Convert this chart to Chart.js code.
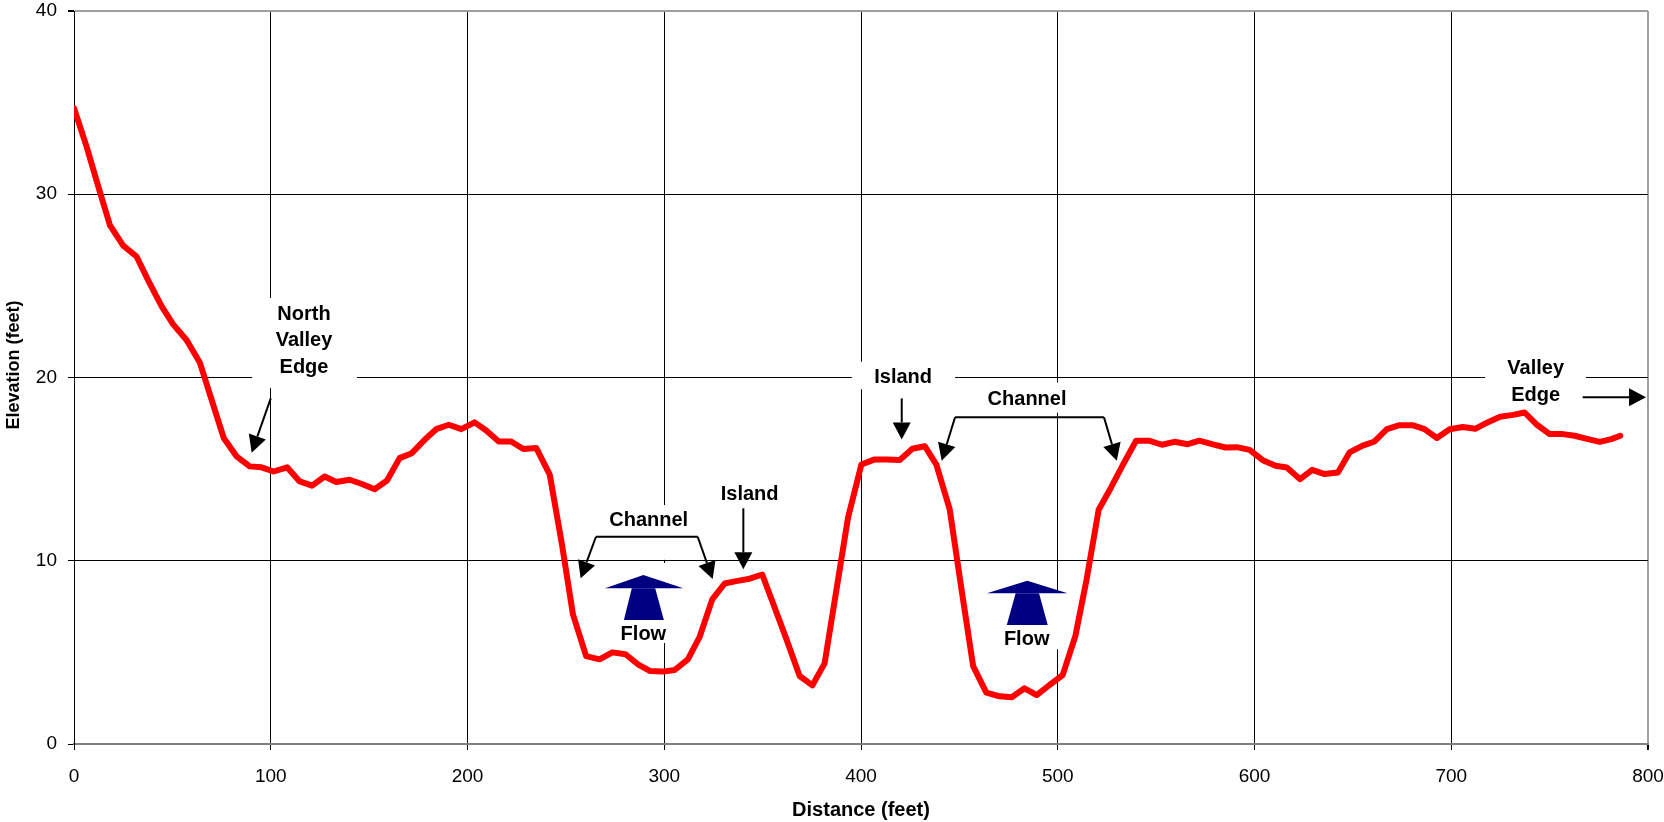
<!DOCTYPE html>
<html>
<head>
<meta charset="utf-8">
<script src="https://cdn.jsdelivr.net/npm/chart.js@4.4.1/dist/chart.umd.min.js"></script>
<style>
  body { margin: 0; background: #fff; }
  #wrap { width: 1664px; height: 822px; }
</style>
</head>
<body>
<div id="wrap"><canvas id="profile" width="1664" height="822"></canvas></div>
<script>
// distance along the cross section (feet) and ground elevation (feet)
const distance = [
    0, 6.4, 12.4, 18.3, 25.0, 31.8, 37.7, 44.5, 50.4, 57.2,
    64.0, 69.9, 76.1, 82.6, 89.3, 95.3, 101.5, 108.3, 114.7, 121.0,
    127.4, 133.3, 140.1, 146.0, 152.8, 159.1, 165.5, 171.7, 178.2, 184.1,
    190.5, 196.8, 203.6, 209.5, 215.9, 222.2, 228.4, 235.0, 241.8, 248.0,
    253.6, 260.3, 267.1, 273.6, 280.3, 286.6, 292.9, 299.3, 305.3, 312.0,
    318.0, 324.4, 330.7, 336.6, 343.4, 349.8, 356.1, 362.0, 368.8, 375.3,
    381.5, 387.5, 393.4, 400.2, 407.0, 413.2, 419.7, 426.1, 432.4, 438.3,
    445.1, 451.0, 457.0, 463.7, 470.4, 476.6, 483.1, 489.3, 495.8, 502.5,
    509.0, 514.7, 520.8, 527.1, 533.3, 539.8, 546.3, 553.0, 559.3, 566.1,
    572.0, 578.8, 585.3, 591.0, 597.5, 604.2, 610.7, 616.4, 623.2, 629.3,
    635.6, 642.4, 648.3, 654.7, 661.0, 667.3, 673.7, 680.3, 686.4, 692.7,
    699.2, 705.8, 712.2, 718.4, 724.8, 731.4, 737.3, 743.2, 750.0, 756.8,
    762.7, 769.5, 775.4, 781.4, 785.9
];
const elevation = [
    34.7, 32.6, 30.4, 28.3, 27.2, 26.6, 25.3, 23.9, 22.9, 22.05,
    20.8, 18.8, 16.7, 15.7, 15.15, 15.1, 14.87, 15.1, 14.33, 14.1,
    14.6, 14.3, 14.42, 14.2, 13.9, 14.38, 15.6, 15.87, 16.6, 17.18,
    17.42, 17.18, 17.55, 17.11, 16.51, 16.51, 16.1, 16.15, 14.7, 10.9,
    7.07, 4.8, 4.62, 5.0, 4.9, 4.35, 3.98, 3.95, 4.04, 4.62,
    5.85, 7.89, 8.76, 8.89, 9.02, 9.25, 7.45, 5.75, 3.71, 3.2,
    4.4, 8.4, 12.35, 15.25, 15.53, 15.53, 15.5, 16.11, 16.25, 15.25,
    12.8, 8.5, 4.25, 2.8, 2.6, 2.55, 3.04, 2.67, 3.22, 3.76,
    5.91, 9.0, 12.78, 14.0, 15.27, 16.55, 16.55, 16.33, 16.49, 16.36,
    16.55, 16.35, 16.18, 16.2, 16.05, 15.49, 15.18, 15.09, 14.45, 14.96,
    14.73, 14.82, 15.91, 16.27, 16.51, 17.18, 17.4, 17.4, 17.18, 16.7,
    17.18, 17.3, 17.2, 17.55, 17.86, 17.96, 18.09, 17.45, 16.91, 16.91,
    16.82, 16.64, 16.49, 16.64, 16.82
];

const fontFamily = "'Liberation Sans', Arial, sans-serif";

// callouts, placed in data units (feet, feet)
const labels = [
    { lines: ["North", "Valley", "Edge"], x: 116.9, y: 22.0, box: [90.5, 143.8, 24.34, 19.43] },
    { lines: ["Island"], x: 421.4, y: 20.0, box: [395.3, 447.8, 20.86, 19.36] },
    { lines: ["Channel"], x: 484.4, y: 18.81, box: [462, 506.7, 19.72, 18.08] },
    { lines: ["Channel"], x: 292.1, y: 12.19, box: [271.4, 313.1, 13.04, 10.05] },
    { lines: ["Island"], x: 343.4, y: 13.64, box: null },
    { lines: ["Valley", "Edge"], x: 742.9, y: 19.75, box: [717.2, 768.5, 21.39, 18.23] },
    { lines: ["Flow"], x: 289.4, y: 5.99, box: [269.9, 309.5, 9.88, 5.51] },
    { lines: ["Flow"], x: 484.2, y: 5.68, box: [464, 505.2, 8.24, 5.18] }
];
const arrows = [
    [100.0, 18.86, 90.3, 15.9],
    [420.7, 18.86, 420.7, 16.62],
    [340.2, 12.86, 340.2, 9.53],
    [766.8, 18.92, 799.0, 18.92],
    [447.8, 17.83, 441.0, 15.46],
    [523.5, 17.83, 530.0, 15.46],
    [265.3, 11.31, 257.5, 9.04],
    [317.0, 11.31, 324.6, 9.0]
];
const brackets = [
    [447.8, 523.5, 17.83],
    [265.3, 317.0, 11.31]
];
// flow arrows: apex, head base (y, left, right), stem top (left, right), stem bottom (y, left, right)
const flows = [
    { apex: [289.4, 9.22], headY: 8.5, headL: 269.9, headR: 309.7, stemTop: [283.5, 295.4], stemY: 6.77, stemBot: [279.5, 299.8] },
    { apex: [484.5, 8.91], headY: 8.22, headL: 464.0, headR: 505.0, stemTop: [478.6, 490.5], stemY: 6.49, stemBot: [474.1, 494.9] }
];

const callouts = {
    id: "callouts",
    beforeDatasetsDraw(chart) {
        const ctx = chart.ctx;
        const xs = chart.scales.x, ys = chart.scales.y;
        ctx.save();
        ctx.fillStyle = "#ffffff";
        labels.forEach(l => {
            if (!l.box) return;
            const x1 = xs.getPixelForValue(l.box[0]), x2 = xs.getPixelForValue(l.box[1]);
            const y1 = ys.getPixelForValue(l.box[2]), y2 = ys.getPixelForValue(l.box[3]);
            ctx.fillRect(x1, y1, x2 - x1, y2 - y1);
        });
        ctx.restore();
    },
    afterDatasetsDraw(chart) {
        const ctx = chart.ctx;
        const xs = chart.scales.x, ys = chart.scales.y;
        const px = v => xs.getPixelForValue(v);
        const py = v => ys.getPixelForValue(v);
        ctx.save();

        // y axis title sits a bit above the middle of the axis in the original
        ctx.save();
        ctx.translate(14, 365);
        ctx.rotate(-Math.PI / 2);
        ctx.fillStyle = "#000";
        ctx.font = "bold 18px " + fontFamily;
        ctx.textAlign = "center";
        ctx.textBaseline = "middle";
        ctx.fillText("Elevation (feet)", 0, 0);
        ctx.restore();

        // text
        ctx.fillStyle = "#000";
        ctx.font = "bold 20px " + fontFamily;
        ctx.textAlign = "center";
        ctx.textBaseline = "middle";
        labels.forEach(l => {
            const lh = 26.7;
            const top = py(l.y) - (l.lines.length - 1) * lh / 2;
            l.lines.forEach((t, i) => ctx.fillText(t, px(l.x), top + i * lh));
        });

        // brackets
        ctx.strokeStyle = "#000";
        ctx.lineWidth = 2;
        brackets.forEach(b => {
            ctx.beginPath();
            ctx.moveTo(px(b[0]), py(b[2]));
            ctx.lineTo(px(b[1]), py(b[2]));
            ctx.stroke();
        });

        // black arrows
        arrows.forEach(a => {
            const x1 = px(a[0]), y1 = py(a[1]), x2 = px(a[2]), y2 = py(a[3]);
            const ang = Math.atan2(y2 - y1, x2 - x1);
            const len = 17, hw = 9;
            const bx = x2 - len * Math.cos(ang), by = y2 - len * Math.sin(ang);
            ctx.beginPath();
            ctx.moveTo(x1, y1);
            ctx.lineTo(bx, by);
            ctx.stroke();
            ctx.beginPath();
            ctx.moveTo(x2, y2);
            ctx.lineTo(bx + hw * Math.sin(ang), by - hw * Math.cos(ang));
            ctx.lineTo(bx - hw * Math.sin(ang), by + hw * Math.cos(ang));
            ctx.closePath();
            ctx.fillStyle = "#000";
            ctx.fill();
        });

        // navy flow arrows
        ctx.fillStyle = "#000080";
        flows.forEach(f => {
            ctx.beginPath();
            ctx.moveTo(px(f.apex[0]), py(f.apex[1]));
            ctx.lineTo(px(f.headR), py(f.headY));
            ctx.lineTo(px(f.headL), py(f.headY));
            ctx.closePath();
            ctx.fill();
            ctx.beginPath();
            ctx.moveTo(px(f.stemTop[0]), py(f.headY));
            ctx.lineTo(px(f.stemTop[1]), py(f.headY));
            ctx.lineTo(px(f.stemBot[1]), py(f.stemY));
            ctx.lineTo(px(f.stemBot[0]), py(f.stemY));
            ctx.closePath();
            ctx.fill();
        });
        ctx.restore();
    }
};

const points = distance.map((d, i) => ({ x: d, y: elevation[i] }));

new Chart(document.getElementById("profile"), {
    type: "line",
    data: {
        datasets: [
            {
                label: "Elevation",
                data: points,
                borderColor: "#ff0000",
                borderWidth: 6,
                pointRadius: 0,
                tension: 0,
                borderJoinStyle: "round",
                borderCapStyle: "round",
                fill: false,
            },
        ],
    },
    options: {
        responsive: false,
        animation: false,
        devicePixelRatio: 1,
        layout: { padding: { top: 11, right: 16, left: 0, bottom: 0 } },
        plugins: {
            legend: { display: false },
            tooltip: { enabled: false },
        },
        scales: {
            x: {
                type: "linear",
                min: 0,
                max: 800,
                // fixed axis size, and no extra room for label overhang
                afterFit: (scale) => {
                    scale.height = 78;
                    scale.paddingLeft = 0;
                    scale.paddingRight = 0;
                },
                border: { color: "#808080", width: 2 },
                grid: {
                    color: (c) => (c.tick && c.tick.value === 800 ? "#a0a0a0" : "#000"),
                    lineWidth: (c) => (c.tick && c.tick.value === 800 ? 2 : 1),
                    tickLength: 6,
                    tickColor: "#000",
                },
                ticks: {
                    stepSize: 100,
                    maxRotation: 0,
                    autoSkip: false,
                    color: "#000",
                    padding: 17,
                    font: { family: fontFamily, size: 19, lineHeight: 1 },
                },
                title: {
                    display: true,
                    text: "Distance (feet)",
                    color: "#000",
                    padding: 0,
                    font: { family: fontFamily, size: 20, weight: "bold" },
                },
            },
            y: {
                min: 0,
                max: 40,
                afterFit: (scale) => {
                    scale.width = 74;
                    scale.paddingTop = 0;
                    scale.paddingBottom = 0;
                },
                border: { color: "#000", width: 1 },
                grid: {
                    color: (c) => (c.tick && c.tick.value === 40 ? "#a0a0a0" : "#000"),
                    lineWidth: (c) => (c.tick && c.tick.value === 40 ? 2 : 1),
                    tickLength: 6,
                    tickColor: "#000",
                },
                ticks: {
                    stepSize: 10,
                    color: "#000",
                    padding: 11,
                    font: { family: fontFamily, size: 19, lineHeight: 1 },
                },
            },
        },
    },
    plugins: [callouts],
});
</script>
</body>
</html>
